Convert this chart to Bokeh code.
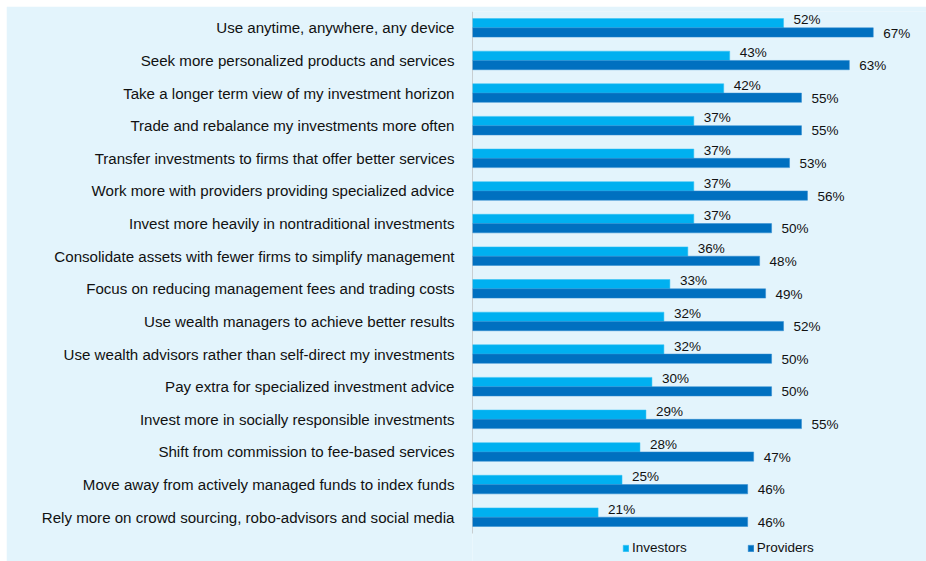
from bokeh.plotting import figure
from bokeh.models import Range1d, ColumnDataSource, Legend, LegendItem, Spacer, FixedTicker
from bokeh.layouts import column, row
from bokeh.transform import dodge
from bokeh.embed import file_html
from bokeh.resources import INLINE

categories = [
    "Use anytime, anywhere, any device",
    "Seek more personalized products and services",
    "Take a longer term view of my investment horizon",
    "Trade and rebalance my investments more often",
    "Transfer investments to firms that offer better services",
    "Work more with providers providing specialized advice",
    "Invest more heavily in nontraditional investments",
    "Consolidate assets with fewer firms to simplify management",
    "Focus on reducing management fees and trading costs",
    "Use wealth managers to achieve better results",
    "Use wealth advisors rather than self-direct my investments",
    "Pay extra for specialized investment advice",
    "Invest more in socially responsible investments",
    "Shift from commission to fee-based services",
    "Move away from actively managed funds to index funds",
    "Rely more on crowd sourcing, robo-advisors and social media",
]
investors = [52, 43, 42, 37, 37, 37, 37, 36, 33, 32, 32, 30, 29, 28, 25, 21]
providers = [67, 63, 55, 55, 53, 56, 50, 48, 49, 52, 50, 50, 55, 47, 46, 46]

BG = "#E3F4FC"
C_INV = "#00B0F0"
C_PRO = "#0070C0"
FONT = "Liberation Sans"

n = len(categories)
pos = [n - 1 - i for i in range(n)]  # first category at the top

src = ColumnDataSource(dict(
    pos=pos,
    inv=investors,
    pro=providers,
    inv_lbl=[f"{v}%" for v in investors],
    pro_lbl=[f"{v}%" for v in providers],
))

ROW_PX = 32.625
LEGEND_PX = 28
p = figure(
    frame_width=454, frame_height=int(round(ROW_PX * n + LEGEND_PX)),
    y_range=Range1d(-0.5 - LEGEND_PX / ROW_PX, n - 0.5),
    x_range=Range1d(0, 75.9),
    output_backend="svg", toolbar_location=None,
    min_border_left=466, min_border_right=0, min_border_top=5, min_border_bottom=0,
)
p.background_fill_color = BG
p.border_fill_color = BG
p.outline_line_color = None
p.xgrid.grid_line_color = None
p.ygrid.grid_line_color = None
p.xaxis.visible = False

ya = p.yaxis[0]
ya.ticker = FixedTicker(ticks=pos)
ya.major_label_overrides = {pv: c for pv, c in zip(pos, categories)}
ya.axis_line_color = None
ya.major_tick_line_color = None
ya.minor_tick_line_color = None
ya.major_label_standoff = 12
ya.major_label_text_font = FONT
ya.major_label_text_font_size = "15.1px"
ya.major_label_text_color = "#111111"

# category axis line, limited to the extent of the category rows
p.segment(x0=[0], y0=[-0.5], x1=[0], y1=[n - 0.5], line_color="#A6A6A6", line_width=1)

bh = 0.285
r_inv = p.hbar(y=dodge("pos", bh / 2), right="inv", left=0, height=bh,
               source=src, fill_color=C_INV, line_color="#33C3F5", line_width=0.5)
r_pro = p.hbar(y=dodge("pos", -bh / 2), right="pro", left=0, height=bh,
               source=src, fill_color=C_PRO, line_color="#2E8BD0", line_width=0.5)

p.text(x="inv", y=dodge("pos", bh / 2 + 0.1), text="inv_lbl", source=src,
       x_offset=10, text_baseline="middle", text_align="left",
       text_font={"value": FONT}, text_font_size="13.5px", text_color="#111111")
p.text(x="pro", y=dodge("pos", -bh / 2 - 0.02), text="pro_lbl", source=src,
       x_offset=10, text_baseline="middle", text_align="left",
       text_font={"value": FONT}, text_font_size="13.5px", text_color="#111111")

legend = Legend(
    items=[LegendItem(label="Investors", renderers=[r_inv]),
           LegendItem(label="Providers", renderers=[r_pro])],
    orientation="horizontal",
    location=(150, 6),
    glyph_width=7, glyph_height=8,
    label_standoff=3, spacing=60,
    padding=0, margin=0,
    label_text_font=FONT, label_text_font_size="13.5px", label_text_color="#111111",
    background_fill_alpha=0, border_line_color=None,
)
p.add_layout(legend, "center")

layout = column(Spacer(height=6), row(Spacer(width=6), p))
open("out.html", "w").write(file_html(layout, INLINE))
